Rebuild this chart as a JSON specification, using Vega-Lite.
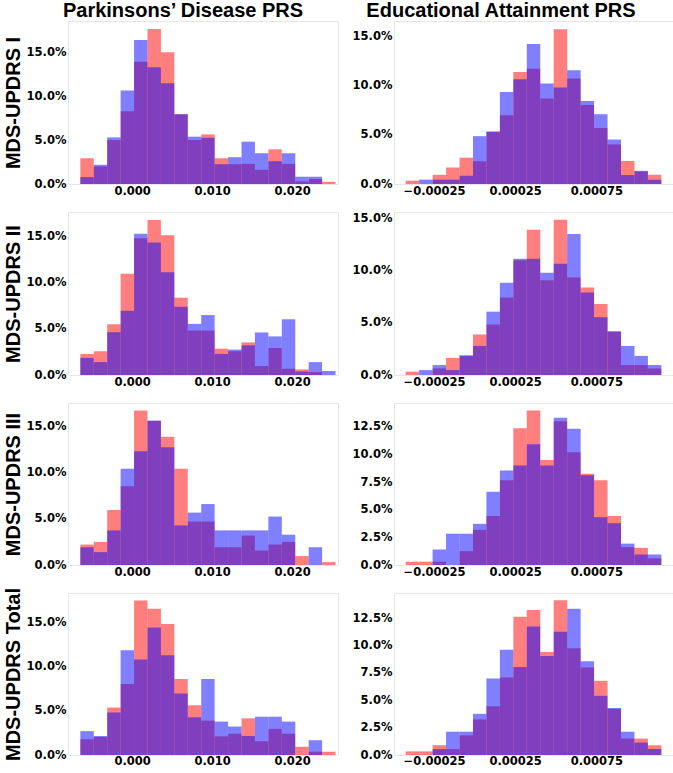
{
  "$schema": "https://vega.github.io/schema/vega-lite/v6.json",
  "padding": {"left": 2, "top": 0, "right": 0, "bottom": 0},
  "background": "white",
  "datasets": {
    "eL": [
      {"i":0,"x0":-0.006479,"x1":-0.004800},{"i":1,"x0":-0.004800,"x1":-0.003121},{"i":2,"x0":-0.003121,"x1":-0.001442},
      {"i":3,"x0":-0.001442,"x1":0.000237},{"i":4,"x0":0.000237,"x1":0.001916},{"i":5,"x0":0.001916,"x1":0.003595},
      {"i":6,"x0":0.003595,"x1":0.005274},{"i":7,"x0":0.005274,"x1":0.006953},{"i":8,"x0":0.006953,"x1":0.008632},
      {"i":9,"x0":0.008632,"x1":0.010311},{"i":10,"x0":0.010311,"x1":0.011990},{"i":11,"x0":0.011990,"x1":0.013669},
      {"i":12,"x0":0.013669,"x1":0.015348},{"i":13,"x0":0.015348,"x1":0.017027},{"i":14,"x0":0.017027,"x1":0.018706},
      {"i":15,"x0":0.018706,"x1":0.020385},{"i":16,"x0":0.020385,"x1":0.022064},{"i":17,"x0":0.022064,"x1":0.023743},
      {"i":18,"x0":0.023743,"x1":0.025422}
    ],
    "eR": [
      {"i":0,"x0":-0.0004245,"x1":-0.0003416},{"i":1,"x0":-0.0003416,"x1":-0.0002587},{"i":2,"x0":-0.0002587,"x1":-0.0001758},
      {"i":3,"x0":-0.0001758,"x1":-0.0000929},{"i":4,"x0":-0.0000929,"x1":-0.0000100},{"i":5,"x0":-0.0000100,"x1":0.0000729},
      {"i":6,"x0":0.0000729,"x1":0.0001558},{"i":7,"x0":0.0001558,"x1":0.0002387},{"i":8,"x0":0.0002387,"x1":0.0003216},
      {"i":9,"x0":0.0003216,"x1":0.0004045},{"i":10,"x0":0.0004045,"x1":0.0004874},{"i":11,"x0":0.0004874,"x1":0.0005703},
      {"i":12,"x0":0.0005703,"x1":0.0006532},{"i":13,"x0":0.0006532,"x1":0.0007361},{"i":14,"x0":0.0007361,"x1":0.0008190},
      {"i":15,"x0":0.0008190,"x1":0.0009019},{"i":16,"x0":0.0009019,"x1":0.0009848},{"i":17,"x0":0.0009848,"x1":0.0010677},
      {"i":18,"x0":0.0010677,"x1":0.0011506}
    ],
    "h": [
      {"p":"L1","i":0,"r":2.94,"b":0.79},{"p":"L1","i":1,"r":2.00,"b":2.19},{"p":"L1","i":2,"r":5.02,"b":5.32},{"p":"L1","i":3,"r":8.30,"b":10.68},
      {"p":"L1","i":4,"r":13.96,"b":16.42},{"p":"L1","i":5,"r":17.70,"b":13.32},{"p":"L1","i":6,"r":15.02,"b":11.51},{"p":"L1","i":7,"r":7.96,"b":7.96},
      {"p":"L1","i":8,"r":5.02,"b":5.40},{"p":"L1","i":9,"r":5.66,"b":5.28},{"p":"L1","i":10,"r":2.94,"b":2.26},{"p":"L1","i":11,"r":2.26,"b":3.06},
      {"p":"L1","i":12,"r":2.30,"b":4.83},{"p":"L1","i":13,"r":1.62,"b":3.51},{"p":"L1","i":14,"r":3.96,"b":2.60},{"p":"L1","i":15,"r":2.30,"b":3.51},
      {"p":"L1","i":16,"r":0.30,"b":0.83},{"p":"L1","i":17,"r":0.57,"b":0.83},{"p":"L1","i":18,"r":0.26,"b":0},

      {"p":"R1","i":0,"r":0.34,"b":0},{"p":"R1","i":1,"r":0,"b":0.44},{"p":"R1","i":2,"r":0.94,"b":0.44},{"p":"R1","i":3,"r":1.68,"b":0.44},
      {"p":"R1","i":4,"r":2.68,"b":0.84},{"p":"R1","i":5,"r":2.32,"b":4.87},{"p":"R1","i":6,"r":5.37,"b":5.30},{"p":"R1","i":7,"r":7.01,"b":9.36},
      {"p":"R1","i":8,"r":11.41,"b":10.67},{"p":"R1","i":9,"r":11.74,"b":14.26},{"p":"R1","i":10,"r":8.72,"b":10.23},{"p":"R1","i":11,"r":15.77,"b":9.83},
      {"p":"R1","i":12,"r":10.74,"b":11.58},{"p":"R1","i":13,"r":8.05,"b":8.46},{"p":"R1","i":14,"r":5.70,"b":7.11},{"p":"R1","i":15,"r":4.03,"b":4.53},
      {"p":"R1","i":16,"r":2.35,"b":0.91},{"p":"R1","i":17,"r":1.28,"b":1.34},{"p":"R1","i":18,"r":0.94,"b":0.44},

      {"p":"L2","i":0,"r":2.29,"b":1.86},{"p":"L2","i":1,"r":2.58,"b":1.40},{"p":"L2","i":2,"r":5.51,"b":4.65},{"p":"L2","i":3,"r":10.99,"b":6.98},
      {"p":"L2","i":4,"r":14.85,"b":15.35},{"p":"L2","i":5,"r":16.82,"b":14.39},{"p":"L2","i":6,"r":15.18,"b":11.17},{"p":"L2","i":7,"r":8.38,"b":7.41},
      {"p":"L2","i":8,"r":4.83,"b":5.55},{"p":"L2","i":9,"r":4.83,"b":6.51},{"p":"L2","i":10,"r":2.86,"b":2.29},{"p":"L2","i":11,"r":2.58,"b":2.76},
      {"p":"L2","i":12,"r":3.54,"b":3.22},{"p":"L2","i":13,"r":0.97,"b":4.62},{"p":"L2","i":14,"r":2.93,"b":4.19},{"p":"L2","i":15,"r":0.68,"b":6.05},
      {"p":"L2","i":16,"r":0.61,"b":0.39},{"p":"L2","i":17,"r":0.32,"b":1.40},{"p":"L2","i":18,"r":0,"b":0.43},

      {"p":"R2","i":0,"r":0.32,"b":0},{"p":"R2","i":1,"r":0,"b":0.47},{"p":"R2","i":2,"r":0.63,"b":0.95},{"p":"R2","i":3,"r":1.64,"b":0.47},
      {"p":"R2","i":4,"r":1.90,"b":1.83},{"p":"R2","i":5,"r":3.88,"b":2.78},{"p":"R2","i":6,"r":4.83,"b":6.06},{"p":"R2","i":7,"r":7.42,"b":8.84},
      {"p":"R2","i":8,"r":10.99,"b":11.12},{"p":"R2","i":9,"r":13.90,"b":11.12},{"p":"R2","i":10,"r":9.07,"b":9.79},{"p":"R2","i":11,"r":14.85,"b":10.64},
      {"p":"R2","i":12,"r":9.32,"b":13.49},{"p":"R2","i":13,"r":8.37,"b":7.90},{"p":"R2","i":14,"r":6.79,"b":5.53},{"p":"R2","i":15,"r":4.17,"b":4.17},
      {"p":"R2","i":16,"r":0.95,"b":2.78},{"p":"R2","i":17,"r":0.95,"b":1.83},{"p":"R2","i":18,"r":0.63,"b":0.95},

      {"p":"L3","i":0,"r":2.22,"b":1.93},{"p":"L3","i":1,"r":2.51,"b":1.40},{"p":"L3","i":2,"r":5.98,"b":3.76},{"p":"L3","i":3,"r":8.55,"b":10.45},
      {"p":"L3","i":4,"r":16.79,"b":12.35},{"p":"L3","i":5,"r":15.64,"b":15.71},{"p":"L3","i":6,"r":13.92,"b":12.78},{"p":"L3","i":7,"r":10.45,"b":4.30},
      {"p":"L3","i":8,"r":4.72,"b":5.69},{"p":"L3","i":9,"r":4.72,"b":6.62},{"p":"L3","i":10,"r":1.93,"b":3.76},{"p":"L3","i":11,"r":1.93,"b":3.76},
      {"p":"L3","i":12,"r":3.19,"b":3.76},{"p":"L3","i":13,"r":1.57,"b":3.76},{"p":"L3","i":14,"r":2.22,"b":5.26},{"p":"L3","i":15,"r":2.51,"b":3.29},
      {"p":"L3","i":16,"r":0.97,"b":0},{"p":"L3","i":17,"r":0,"b":1.93},{"p":"L3","i":18,"r":0.32,"b":0},

      {"p":"R3","i":0,"r":0.30,"b":0},{"p":"R3","i":1,"r":0.30,"b":0},{"p":"R3","i":2,"r":0.30,"b":1.40},{"p":"R3","i":3,"r":0,"b":2.83},
      {"p":"R3","i":4,"r":1.25,"b":2.83},{"p":"R3","i":5,"r":3.18,"b":3.72},{"p":"R3","i":6,"r":4.43,"b":6.61},{"p":"R3","i":7,"r":7.65,"b":8.54},
      {"p":"R3","i":8,"r":12.35,"b":8.99},{"p":"R3","i":9,"r":13.96,"b":10.92},{"p":"R3","i":10,"r":9.49,"b":8.99},{"p":"R3","i":11,"r":13.00,"b":13.30},
      {"p":"R3","i":12,"r":10.18,"b":12.32},{"p":"R3","i":13,"r":8.24,"b":8.10},{"p":"R3","i":14,"r":7.65,"b":4.32},{"p":"R3","i":15,"r":4.43,"b":3.78},
      {"p":"R3","i":16,"r":1.61,"b":1.93},{"p":"R3","i":17,"r":1.55,"b":0.95},{"p":"R3","i":18,"r":0.60,"b":0.95},

      {"p":"L4","i":0,"r":1.78,"b":2.70},{"p":"L4","i":1,"r":2.04,"b":2.15},{"p":"L4","i":2,"r":5.37,"b":4.81},{"p":"L4","i":3,"r":8.04,"b":11.85},
      {"p":"L4","i":4,"r":17.48,"b":10.81},{"p":"L4","i":5,"r":16.56,"b":14.44},{"p":"L4","i":6,"r":14.81,"b":11.30},{"p":"L4","i":7,"r":8.59,"b":6.96},
      {"p":"L4","i":8,"r":5.63,"b":4.26},{"p":"L4","i":9,"r":3.89,"b":8.59},{"p":"L4","i":10,"r":2.11,"b":3.78},{"p":"L4","i":11,"r":2.41,"b":3.22},
      {"p":"L4","i":12,"r":4.15,"b":2.15},{"p":"L4","i":13,"r":1.56,"b":4.33},{"p":"L4","i":14,"r":2.96,"b":4.33},{"p":"L4","i":15,"r":2.41,"b":3.78},
      {"p":"L4","i":16,"r":0.93,"b":0},{"p":"L4","i":17,"r":0.37,"b":1.67},{"p":"L4","i":18,"r":0.37,"b":0},

      {"p":"R4","i":0,"r":0.33,"b":0},{"p":"R4","i":1,"r":0.33,"b":0},{"p":"R4","i":2,"r":0.90,"b":0.54},{"p":"R4","i":3,"r":0.54,"b":2.13},
      {"p":"R4","i":4,"r":1.80,"b":2.13},{"p":"R4","i":5,"r":3.25,"b":3.76},{"p":"R4","i":6,"r":4.45,"b":7.00},{"p":"R4","i":7,"r":7.09,"b":9.62},
      {"p":"R4","i":8,"r":12.65,"b":8.05},{"p":"R4","i":9,"r":13.25,"b":11.75},{"p":"R4","i":10,"r":9.41,"b":9.05},{"p":"R4","i":11,"r":14.15,"b":11.27},
      {"p":"R4","i":12,"r":9.77,"b":13.37},{"p":"R4","i":13,"r":7.99,"b":8.56},{"p":"R4","i":14,"r":6.79,"b":5.41},{"p":"R4","i":15,"r":4.21,"b":4.30},
      {"p":"R4","i":16,"r":1.50,"b":2.13},{"p":"R4","i":17,"r":1.50,"b":1.14},{"p":"R4","i":18,"r":0.90,"b":0.54}
    ]
  },
  "columns": 2,
  "align": "each",
  "bounds": "flush",
  "spacing": {"row": 28, "column": 56},
  "concat": [
    {
      "width": 270, "height": 163,
      "title": {"text": "Parkinsons’ Disease PRS", "dx": -20, "offset": 0},
      "data": {"name": "h"},
      "transform": [
        {"filter": "datum.p === 'L1'"},
        {"lookup": "i", "from": {"data": {"name": "eL"}, "key": "i", "fields": ["x0", "x1"]}},
        {"fold": ["r", "b"], "as": ["g", "v"]}
      ],
      "mark": {"type": "bar", "opacity": 0.5},
      "encoding": {
        "x": {"field": "x0", "type": "quantitative", "title": null, "scale": {"domain": [-0.00802, 0.02573], "nice": false, "zero": false}, "axis": {"values": [0, 0.01, 0.02], "format": ".3f"}},
        "x2": {"field": "x1"},
        "y": {"field": "v", "type": "quantitative", "stack": null, "title": "MDS-UPDRS I", "scale": {"domain": [0, 18.6], "nice": false}, "axis": {"values": [0, 5, 10, 15], "labelExpr": "format(datum.value, '.1f') + '%'"}},
        "y2": {"datum": 0},
        "color": {"field": "g", "type": "nominal", "scale": {"domain": ["r", "b"], "range": ["#ff0000", "#0000ff"]}, "legend": null}
      }
    },
    {
      "width": 280, "height": 163,
      "title": {"text": "Educational Attainment PRS", "dx": -33, "offset": 0},
      "data": {"name": "h"},
      "transform": [
        {"filter": "datum.p === 'R1'"},
        {"lookup": "i", "from": {"data": {"name": "eR"}, "key": "i", "fields": ["x0", "x1"]}},
        {"fold": ["r", "b"], "as": ["g", "v"]}
      ],
      "mark": {"type": "bar", "opacity": 0.5},
      "encoding": {
        "x": {"field": "x0", "type": "quantitative", "title": null, "scale": {"domain": [-0.0004964, 0.0012284], "nice": false, "zero": false}, "axis": {"values": [-0.00025, 0.00025, 0.00075], "format": ".5f"}},
        "x2": {"field": "x1"},
        "y": {"field": "v", "type": "quantitative", "stack": null, "title": null, "scale": {"domain": [0, 16.6], "nice": false}, "axis": {"values": [0, 5, 10, 15], "labelExpr": "format(datum.value, '.1f') + '%'"}},
        "y2": {"datum": 0},
        "color": {"field": "g", "type": "nominal", "scale": {"domain": ["r", "b"], "range": ["#ff0000", "#0000ff"]}, "legend": null}
      }
    },
    {
      "width": 270, "height": 163,
      "data": {"name": "h"},
      "transform": [
        {"filter": "datum.p === 'L2'"},
        {"lookup": "i", "from": {"data": {"name": "eL"}, "key": "i", "fields": ["x0", "x1"]}},
        {"fold": ["r", "b"], "as": ["g", "v"]}
      ],
      "mark": {"type": "bar", "opacity": 0.5},
      "encoding": {
        "x": {"field": "x0", "type": "quantitative", "title": null, "scale": {"domain": [-0.00802, 0.02573], "nice": false, "zero": false}, "axis": {"values": [0, 0.01, 0.02], "format": ".3f"}},
        "x2": {"field": "x1"},
        "y": {"field": "v", "type": "quantitative", "stack": null, "title": "MDS-UPDRS II", "scale": {"domain": [0, 17.7], "nice": false}, "axis": {"values": [0, 5, 10, 15], "labelExpr": "format(datum.value, '.1f') + '%'"}},
        "y2": {"datum": 0},
        "color": {"field": "g", "type": "nominal", "scale": {"domain": ["r", "b"], "range": ["#ff0000", "#0000ff"]}, "legend": null}
      }
    },
    {
      "width": 280, "height": 163,
      "data": {"name": "h"},
      "transform": [
        {"filter": "datum.p === 'R2'"},
        {"lookup": "i", "from": {"data": {"name": "eR"}, "key": "i", "fields": ["x0", "x1"]}},
        {"fold": ["r", "b"], "as": ["g", "v"]}
      ],
      "mark": {"type": "bar", "opacity": 0.5},
      "encoding": {
        "x": {"field": "x0", "type": "quantitative", "title": null, "scale": {"domain": [-0.0004964, 0.0012284], "nice": false, "zero": false}, "axis": {"values": [-0.00025, 0.00025, 0.00075], "format": ".5f"}},
        "x2": {"field": "x1"},
        "y": {"field": "v", "type": "quantitative", "stack": null, "title": null, "scale": {"domain": [0, 15.6], "nice": false}, "axis": {"values": [0, 5, 10, 15], "labelExpr": "format(datum.value, '.1f') + '%'"}},
        "y2": {"datum": 0},
        "color": {"field": "g", "type": "nominal", "scale": {"domain": ["r", "b"], "range": ["#ff0000", "#0000ff"]}, "legend": null}
      }
    },
    {
      "width": 270, "height": 162,
      "data": {"name": "h"},
      "transform": [
        {"filter": "datum.p === 'L3'"},
        {"lookup": "i", "from": {"data": {"name": "eL"}, "key": "i", "fields": ["x0", "x1"]}},
        {"fold": ["r", "b"], "as": ["g", "v"]}
      ],
      "mark": {"type": "bar", "opacity": 0.5},
      "encoding": {
        "x": {"field": "x0", "type": "quantitative", "title": null, "scale": {"domain": [-0.00802, 0.02573], "nice": false, "zero": false}, "axis": {"values": [0, 0.01, 0.02], "format": ".3f"}},
        "x2": {"field": "x1"},
        "y": {"field": "v", "type": "quantitative", "stack": null, "title": "MDS-UPDRS III", "scale": {"domain": [0, 17.6], "nice": false}, "axis": {"values": [0, 5, 10, 15], "labelExpr": "format(datum.value, '.1f') + '%'"}},
        "y2": {"datum": 0},
        "color": {"field": "g", "type": "nominal", "scale": {"domain": ["r", "b"], "range": ["#ff0000", "#0000ff"]}, "legend": null}
      }
    },
    {
      "width": 280, "height": 162,
      "data": {"name": "h"},
      "transform": [
        {"filter": "datum.p === 'R3'"},
        {"lookup": "i", "from": {"data": {"name": "eR"}, "key": "i", "fields": ["x0", "x1"]}},
        {"fold": ["r", "b"], "as": ["g", "v"]}
      ],
      "mark": {"type": "bar", "opacity": 0.5},
      "encoding": {
        "x": {"field": "x0", "type": "quantitative", "title": null, "scale": {"domain": [-0.0004964, 0.0012284], "nice": false, "zero": false}, "axis": {"values": [-0.00025, 0.00025, 0.00075], "format": ".5f"}},
        "x2": {"field": "x1"},
        "y": {"field": "v", "type": "quantitative", "stack": null, "title": null, "scale": {"domain": [0, 14.64], "nice": false}, "axis": {"values": [0, 2.5, 5, 7.5, 10, 12.5], "labelExpr": "format(datum.value, '.1f') + '%'"}},
        "y2": {"datum": 0},
        "color": {"field": "g", "type": "nominal", "scale": {"domain": ["r", "b"], "range": ["#ff0000", "#0000ff"]}, "legend": null}
      }
    },
    {
      "width": 270, "height": 162,
      "data": {"name": "h"},
      "transform": [
        {"filter": "datum.p === 'L4'"},
        {"lookup": "i", "from": {"data": {"name": "eL"}, "key": "i", "fields": ["x0", "x1"]}},
        {"fold": ["r", "b"], "as": ["g", "v"]}
      ],
      "mark": {"type": "bar", "opacity": 0.5},
      "encoding": {
        "x": {"field": "x0", "type": "quantitative", "title": null, "scale": {"domain": [-0.00802, 0.02573], "nice": false, "zero": false}, "axis": {"values": [0, 0.01, 0.02], "format": ".3f", "labelPadding": 0}},
        "x2": {"field": "x1"},
        "y": {"field": "v", "type": "quantitative", "stack": null, "title": "MDS-UPDRS Total", "scale": {"domain": [0, 18.33], "nice": false}, "axis": {"values": [0, 5, 10, 15], "labelExpr": "format(datum.value, '.1f') + '%'"}},
        "y2": {"datum": 0},
        "color": {"field": "g", "type": "nominal", "scale": {"domain": ["r", "b"], "range": ["#ff0000", "#0000ff"]}, "legend": null}
      }
    },
    {
      "width": 280, "height": 162,
      "data": {"name": "h"},
      "transform": [
        {"filter": "datum.p === 'R4'"},
        {"lookup": "i", "from": {"data": {"name": "eR"}, "key": "i", "fields": ["x0", "x1"]}},
        {"fold": ["r", "b"], "as": ["g", "v"]}
      ],
      "mark": {"type": "bar", "opacity": 0.5},
      "encoding": {
        "x": {"field": "x0", "type": "quantitative", "title": null, "scale": {"domain": [-0.0004964, 0.0012284], "nice": false, "zero": false}, "axis": {"values": [-0.00025, 0.00025, 0.00075], "format": ".5f", "labelPadding": 0}},
        "x2": {"field": "x1"},
        "y": {"field": "v", "type": "quantitative", "stack": null, "title": null, "scale": {"domain": [0, 14.81], "nice": false}, "axis": {"values": [0, 2.5, 5, 7.5, 10, 12.5], "labelExpr": "format(datum.value, '.1f') + '%'"}},
        "y2": {"datum": 0},
        "color": {"field": "g", "type": "nominal", "scale": {"domain": ["r", "b"], "range": ["#ff0000", "#0000ff"]}, "legend": null}
      }
    }
  ],
  "config": {
    "view": {"stroke": "#e6e6e6"},
    "axis": {
      "domain": false, "grid": false, "ticks": false, "tickSize": 0,
      "labelFont": "DejaVu Sans", "labelFontWeight": "bold", "labelFontSize": 11.5, "labelColor": "#000000",
      "titleFont": "Liberation Sans", "titleFontSize": 20, "titleFontWeight": "bold", "titleColor": "#000000"
    },
    "axisX": {"labelPadding": 1},
    "axisY": {"labelPadding": 2, "titlePadding": 3},
    "title": {"font": "Liberation Sans", "fontSize": 20, "fontWeight": "bold", "color": "#000000", "anchor": "middle"}
  }
}
